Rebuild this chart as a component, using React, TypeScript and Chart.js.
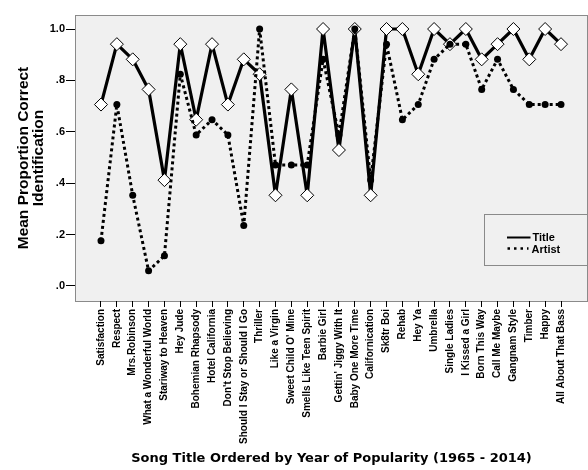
import { useEffect, useRef } from "react";
import { Chart, registerables } from "chart.js";

Chart.register(...registerables);

const songs = [
  "Satisfaction",
  "Respect",
  "Mrs.Robinson",
  "What a Wonderful World",
  "Stariway to Heaven",
  "Hey Jude",
  "Bohemian Rhapsody",
  "Hotel California",
  "Don't Stop Believing",
  "Should I Stay or Should I Go",
  "Thriller",
  "Like a Virgin",
  "Sweet Child O' Mine",
  "Smells Like Teen Spirit",
  "Barbie Girl",
  "Gettin' Jiggy With It",
  "Baby One More Time",
  "Californication",
  "Sk8tr Boi",
  "Rehab",
  "Hey Ya",
  "Umbrella",
  "Single Ladies",
  "I Kissed a Girl",
  "Born This Way",
  "Call Me Maybe",
  "Gangnam Style",
  "Timber",
  "Happy",
  "All About That Bass",
];

const titleScores = [
  0.706, 0.941, 0.882, 0.765, 0.412, 0.941, 0.647, 0.941, 0.706, 0.882,
  0.824, 0.353, 0.765, 0.353, 1.0, 0.529, 1.0, 0.353, 1.0, 1.0,
  0.824, 1.0, 0.941, 1.0, 0.882, 0.941, 1.0, 0.882, 1.0, 0.941,
];

const artistScores = [
  0.176, 0.706, 0.353, 0.059, 0.118, 0.824, 0.588, 0.647, 0.588, 0.235,
  1.0, 0.471, 0.471, 0.471, 0.882, 0.588, 1.0, 0.412, 0.941, 0.647,
  0.706, 0.882, 0.941, 0.941, 0.765, 0.882, 0.765, 0.706, 0.706, 0.706,
];

const yTickValues = [0, 0.2, 0.4, 0.6, 0.8, 1.0];

const seriesNames = ["Title", "Artist"];

export default function App() {
  const ref = useRef<HTMLCanvasElement>(null);

  useEffect(() => {
    if (!ref.current) return;

    const bgPlugin = {
      id: "plotBg",
      beforeDraw(chart: any) {
        const { ctx, chartArea: a } = chart;
        ctx.save();
        ctx.fillStyle = "#f0f0f0";
        ctx.fillRect(a.left, a.top, a.right - a.left, a.bottom - a.top);
        ctx.strokeStyle = "#8a8a8a";
        ctx.lineWidth = 1;
        ctx.strokeRect(a.left + 0.5, a.top + 0.5, a.right - a.left - 1, a.bottom - a.top);
        ctx.restore();
      },
    };

    const legendPlugin = {
      id: "customLegend",
      afterDraw(chart: any) {
        const { ctx, chartArea: a } = chart;
        const bx = a.right - 103.5;
        const by = 214.5;
        ctx.save();
        ctx.fillStyle = "#f0f0f0";
        ctx.fillRect(bx, by, 103, 51);
        ctx.strokeStyle = "#8a8a8a";
        ctx.lineWidth = 1;
        ctx.strokeRect(bx, by, 103, 51);
        ctx.strokeStyle = "#000";
        ctx.lineWidth = 2;
        ctx.beginPath();
        ctx.moveTo(bx + 22.5, 237.5);
        ctx.lineTo(bx + 46, 237.5);
        ctx.stroke();
        ctx.lineWidth = 2.5;
        ctx.setLineDash([2.5, 4]);
        ctx.beginPath();
        ctx.moveTo(bx + 23, 248.5);
        ctx.lineTo(bx + 44, 248.5);
        ctx.stroke();
        ctx.setLineDash([]);
        ctx.fillStyle = "#000";
        ctx.font = "bold 11px 'Liberation Sans', Arial, sans-serif";
        ctx.textBaseline = "middle";
        ctx.textAlign = "left";
        ctx.fillText(seriesNames[0], bx + 48, 238);
        ctx.fillText(seriesNames[1], bx + 47, 249.5);
        ctx.restore();
      },
    };

    const chart = new Chart(ref.current, {
      type: "line",
      data: {
        datasets: [
          {
            label: seriesNames[1],
            data: artistScores.map((v, i) => ({ x: i, y: v })),
            borderColor: "#000",
            borderWidth: 3,
            borderDash: [3, 3],
            borderJoinStyle: "round",
            pointStyle: "circle",
            pointRadius: 3.5,
            pointBackgroundColor: "#000",
            pointBorderColor: "#000",
            pointBorderWidth: 0,
            tension: 0,
            order: 0,
          },
          {
            label: seriesNames[0],
            data: titleScores.map((v, i) => ({ x: i, y: v })),
            borderColor: "#000",
            borderWidth: 3.2,
            borderJoinStyle: "round",
            pointStyle: "rectRot",
            pointRadius: 6.5,
            pointBackgroundColor: "#fff",
            pointBorderColor: "#000",
            pointBorderWidth: 1,
            tension: 0,
            order: 1,
          },
        ],
      },
      options: {
        responsive: false,
        animation: false,
        devicePixelRatio: 1,
        layout: { autoPadding: false, padding: { top: 15, left: 0, right: 0, bottom: 0 } },
        plugins: {
          legend: { display: false },
          tooltip: { enabled: false },
        },
        scales: {
          x: {
            type: "linear",
            min: -1.639,
            max: 30.702,
            afterBuildTicks: (s: any) => {
              s.ticks = songs.map((_, i) => ({ value: i }));
            },
            afterFit: (s: any) => {
              s.height = 169;
              s.paddingLeft = 0;
              s.paddingRight = 0;
            },
            ticks: {
              autoSkip: false,
              maxRotation: 90,
              minRotation: 90,
              padding: 2,
              color: "#000",
              font: { family: "'Liberation Sans', Arial, sans-serif", size: 10, weight: "bold" },
              callback: (v: any) => songs[v as number] ?? "",
            },
            grid: { drawOnChartArea: false, drawTicks: true, tickLength: 6, color: "#000" },
            border: { display: false },
            title: {
              display: true,
              text: "Song Title Ordered by Year of Popularity (1965 - 2014)",
              color: "#000",
              font: { family: "'DejaVu Sans', Verdana, sans-serif", size: 13, weight: "bold" },
              padding: { top: 0, bottom: 4 },
            },
          },
          y: {
            type: "linear",
            min: -0.0584,
            max: 1.0545,
            afterBuildTicks: (s: any) => {
              s.ticks = yTickValues.map((v) => ({ value: v }));
            },
            afterFit: (s: any) => {
              s.width = 75;
              s.paddingTop = 0;
              s.paddingBottom = 0;
            },
            ticks: {
              color: "#000",
              padding: 1,
              font: { family: "'Liberation Sans', Arial, sans-serif", size: 11, weight: "bold" },
              callback: (v: any) => Number(v).toFixed(1).replace(/^0/, ""),
            },
            grid: { drawOnChartArea: false, drawTicks: true, tickLength: 9, color: "#000" },
            border: { display: false },
            title: {
              display: true,
              text: ["Mean Proportion Correct", "Identification"],
              color: "#000",
              font: { family: "'Liberation Sans', Arial, sans-serif", size: 15.5, weight: "bold", lineHeight: 0.97 },
              padding: { top: 16.5, bottom: 0 },
            },
          },
        },
      },
      plugins: [bgPlugin, legendPlugin],
    } as any);

    return () => chart.destroy();
  }, []);

  return (
    <div style={{ position: "fixed", left: 0, top: 0, width: 588, height: 470, background: "#fff" }}>
      <canvas ref={ref} width={588} height={470} style={{ display: "block", width: 588, height: 470 }} />
    </div>
  );
}
